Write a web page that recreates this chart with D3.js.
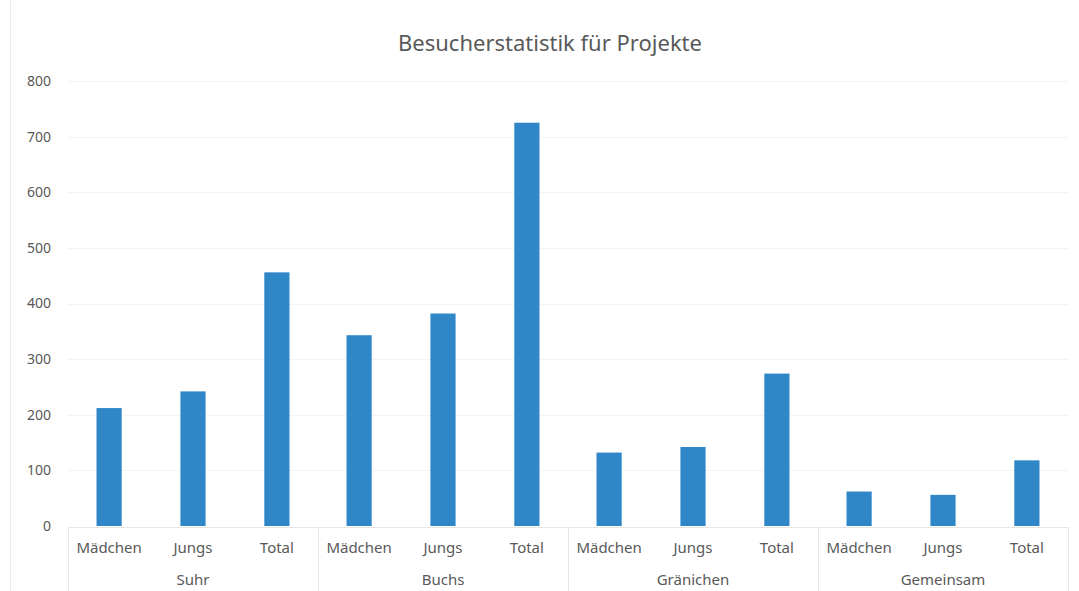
<!DOCTYPE html>
<html>
<head>
<meta charset="utf-8">
<script src="https://cdn.jsdelivr.net/npm/d3@7"></script>
<style>
	body { margin: 0; background: #fff; }
	text { font-family: "Noto Sans", "Open Sans", sans-serif; fill: #595959; }
</style>
</head>
<body>
<div id="chart"></div>
<script>
// data
var groups = ["Suhr", "Buchs", "Gränichen", "Gemeinsam"];
var categories = ["Mädchen", "Jungs", "Total"];
var suhrValues = [212, 242, 456];
var buchsValues = [343, 382, 725];
var granichenValues = [132, 142, 274];
var gemeinsamValues = [62, 56, 118];
var yTicks = [0, 100, 200, 300, 400, 500, 600, 700, 800];
var chartTitle = "Besucherstatistik für Projekte";

function renderChart() {
	var valuesByGroup = [suhrValues, buchsValues, granichenValues, gemeinsamValues];
	var rows = [];
	groups.forEach(function(g, gi) {
		categories.forEach(function(c, ci) {
			rows.push({ group: g, cat: c, value: valuesByGroup[gi][ci] });
		});
	});

	var W = 1079, H = 591;
	var plotLeft = 68, plotRight = 1068, plotTop = 81, plotBottom = 526;

	var svg = d3.select("#chart")
		.append("svg")
		.attr("width", W)
		.attr("height", H);

	// faint outer border
	svg.append("rect")
		.attr("x", 10.5).attr("y", -1)
		.attr("width", W - 8).attr("height", H + 2)
		.attr("fill", "none")
		.attr("stroke", "#ececec");

	var x0 = d3.scaleBand()
		.domain(groups)
		.range([plotLeft, plotRight]);

	var x1 = d3.scaleBand()
		.domain(categories)
		.range([0, x0.bandwidth()])
		.paddingInner(0.7)
		.paddingOuter(0.34);

	var y = d3.scaleLinear()
		.domain([0, 800])
		.range([plotBottom, plotTop]);

	// gridlines
	svg.append("g")
		.selectAll("line")
		.data(yTicks.slice(1))
		.enter()
		.append("line")
		.attr("x1", plotLeft)
		.attr("x2", plotRight)
		.attr("y1", function(d) { return Math.round(y(d)) + 0.5; })
		.attr("y2", function(d) { return Math.round(y(d)) + 0.5; })
		.attr("stroke", "#f4f4f4");

	// y axis labels
	var yAxis = svg.append("g")
		.attr("transform", "translate(" + plotLeft + ",0)")
		.call(d3.axisLeft(y).tickValues(yTicks).tickSize(0).tickPadding(17));
	yAxis.select(".domain").remove();
	yAxis.selectAll("text")
		.style("font-size", "14px")
		.style("font-family", "'Noto Sans', sans-serif")
		.attr("fill", "#595959");

	// bars
	svg.append("g")
		.selectAll("rect")
		.data(rows)
		.enter()
		.append("rect")
		.attr("x", function(d) { return x0(d.group) + x1(d.cat); })
		.attr("y", function(d) { return y(d.value); })
		.attr("width", x1.bandwidth())
		.attr("height", function(d) { return y(0) - y(d.value); })
		.attr("fill", "#2f87c8");

	// baseline
	svg.append("line")
		.attr("x1", plotLeft).attr("x2", plotRight)
		.attr("y1", plotBottom + 1.5).attr("y2", plotBottom + 1.5)
		.attr("stroke", "#e6e6e6");

	// group separators
	svg.append("g")
		.selectAll("line")
		.data(groups.concat(["end"]))
		.enter()
		.append("line")
		.attr("x1", function(d, i) { return (i < groups.length ? x0(d) : plotRight) + 0.5; })
		.attr("x2", function(d, i) { return (i < groups.length ? x0(d) : plotRight) + 0.5; })
		.attr("y1", plotBottom + 1)
		.attr("y2", H)
		.attr("stroke", "#e6e6e6");

	// category labels
	svg.append("g")
		.selectAll("text")
		.data(rows)
		.enter()
		.append("text")
		.attr("x", function(d) { return x0(d.group) + x1(d.cat) + x1.bandwidth() / 2; })
		.attr("y", 553)
		.attr("text-anchor", "middle")
		.style("font-size", "15px")
		.text(function(d) { return d.cat; });

	// group labels
	svg.append("g")
		.selectAll("text")
		.data(groups)
		.enter()
		.append("text")
		.attr("x", function(d) { return x0(d) + x0.bandwidth() / 2; })
		.attr("y", 585)
		.attr("text-anchor", "middle")
		.style("font-size", "15px")
		.text(function(d) { return d; });

	// title
	svg.append("text")
		.attr("x", 550)
		.attr("y", 51)
		.attr("text-anchor", "middle")
		.style("font-size", "22px")
		.text(chartTitle);
}

renderChart();
</script>
</body>
</html>
